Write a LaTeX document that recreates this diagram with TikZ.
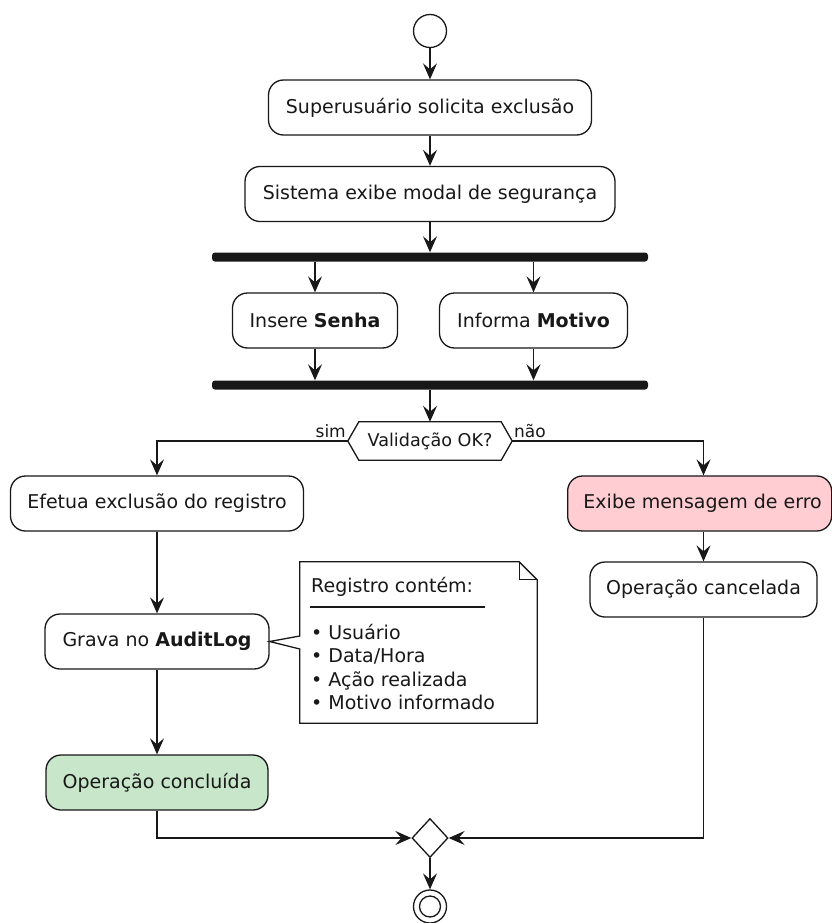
\documentclass[tikz,border=0pt]{standalone}
\usepackage{fontspec}
\setmainfont{DejaVu Sans}
\usetikzlibrary{arrows.meta,shapes.geometric,calc}

\definecolor{ink}{HTML}{181818}
\definecolor{errfill}{HTML}{FFCDD2}
\definecolor{okfill}{HTML}{C8E6C9}

\begin{document}
\begin{tikzpicture}[x=1pt,y=-1pt,
  act/.style={draw=ink, line width=1.3pt, rounded corners=15pt, fill=white,
    minimum height=55pt, inner sep=0pt, text=ink, font=\fontsize{19}{23}\selectfont},
  flow/.style={draw=ink, line width=1.3pt, -{Stealth[length=16pt,width=14pt,inset=6pt]}},
  plain/.style={draw=ink, line width=1.3pt},
  syncbar/.style={fill=ink, rounded corners=3pt, minimum height=9pt,
    minimum width=436pt, inner sep=0pt},
  lbl/.style={font=\fontsize{17}{20}\selectfont, text=ink, inner sep=0pt},
  notetxt/.style={font=\fontsize{19}{23}\selectfont, text=ink, inner sep=0pt, anchor=base west}]

  % canvas
  \fill[white] (0,0) rectangle (832,923);
  \useasboundingbox (0,0) rectangle (832,923);

  % start
  \node[circle, draw=ink, line width=1.3pt, minimum size=33pt, inner sep=0pt] (start) at (430,31) {};

  % main sequence
  \node[act, minimum width=323pt] (b1) at (430,107.5) {Superusuário solicita exclusão};
  \node[act, minimum width=370pt] (b2) at (430,194) {Sistema exibe modal de segurança};

  % fork
  \node[syncbar] (fork1) at (430,257) {};
  \node[act, minimum width=165pt] (senha) at (315,320.5) {Insere \textbf{Senha}};
  \node[act, minimum width=188pt] (motivo) at (533.5,320.5) {Informa \textbf{Motivo}};
  \node[syncbar] (fork2) at (430,385) {};

  % decision
  \node[lbl, font=\fontsize{17.6}{20}\selectfont, minimum width=164pt, minimum height=38pt] (hex) at (430,441) {Validação OK?};
  \draw[plain] (hex.west) -- ($(hex.north west)+(11,0)$) -- ($(hex.north east)+(-11,0)$)
    -- (hex.east) -- ($(hex.south east)+(-11,0)$) -- ($(hex.south west)+(11,0)$) -- cycle;
  \node[lbl, anchor=base east] (simlbl) at (346,437) {sim};
  \node[lbl, anchor=base west] (naolbl) at (514,437) {não};

  % left branch
  \node[act, minimum width=293pt] (efetua) at (157,503.5) {Efetua exclusão do registro};
  \node[act, minimum width=224pt] (audit) at (157,641.5) {Grava no \textbf{AuditLog}};
  \node[act, minimum width=222pt, fill=okfill] (concl) at (157,782.5) {Operação concluída};

  % right branch
  \node[act, minimum width=264pt, inner xsep=0pt, anchor=west, fill=errfill] (erro) at (567,503.5)
    {\hspace*{6pt}Exibe mensagem de erro};
  \node[act, minimum width=227pt] (cancel) at (703.5,589.5) {Operação cancelada};

  % note attached to the audit step
  \node[minimum width=237pt, minimum height=161pt, inner sep=0pt] (note) at (418.5,642.5) {};
  \draw[plain, fill=white, line join=miter] (note.north west) -- ($(note.north east)+(-18,0)$)
    -- ($(note.north east)+(0,18)$) -- (note.south east) -- (note.south west)
    -- ($(note.west)+(0,6.5)$) -- (audit.east) -- ($(note.west)+(0,-6.5)$) -- cycle;
  \draw[plain] ($(note.north east)+(-18,0)$) -- ($(note.north east)+(-18,18)$) -- ($(note.north east)+(0,18)$);
  \node[notetxt] (ntitle) at (311,592) {Registro contém:};
  \draw[plain] (310,607) -- (485,607);
  \node[notetxt] (nb1) at (311,639) {• Usuário};
  \node[notetxt] (nb2) at (311,662) {• Data/Hora};
  \node[notetxt] (nb3) at (311,686) {• Ação realizada};
  \node[notetxt] (nb4) at (311,709) {• Motivo informado};

  % merge and end
  \node[diamond, draw=ink, line width=1.3pt, minimum width=36pt, minimum height=39pt, inner sep=0pt, fill=white] (merge) at (430,838) {};
  \node[circle, draw=ink, line width=1.3pt, minimum size=33pt, inner sep=0pt] (end) at (430,906.5) {};
  \node[circle, draw=ink, line width=1.3pt, minimum size=21pt, inner sep=0pt] (endin) at (430,906.5) {};

  % connectors
  \draw[flow] (start) -- (b1);
  \draw[flow] (b1) -- (b2);
  \draw[flow] (b2.south) -- (b2.south |- fork1.north);
  \draw[flow] (fork1.south -| senha.north) -- (senha.north);
  \draw[flow] (fork1.south -| motivo.north) -- (motivo.north);
  \draw[flow] (senha.south) -- (senha.south |- fork2.north);
  \draw[flow] (motivo.south) -- (motivo.south |- fork2.north);
  \draw[flow] (fork2.south) -- (hex.north);
  \draw[flow] (hex.west) -| (efetua.north);
  \draw[flow] (hex.east) -| (cancel.north |- erro.north);
  \draw[flow] (efetua) -- (audit);
  \draw[flow] (audit) -- (concl);
  \draw[flow] (cancel.north |- erro.south) -- (cancel.north);
  \draw[flow] (concl.south) |- (merge.west);
  \draw[flow] (cancel.south) |- (merge.east);
  \draw[flow] (merge.south) -- (end.north);
\end{tikzpicture}
\end{document}
